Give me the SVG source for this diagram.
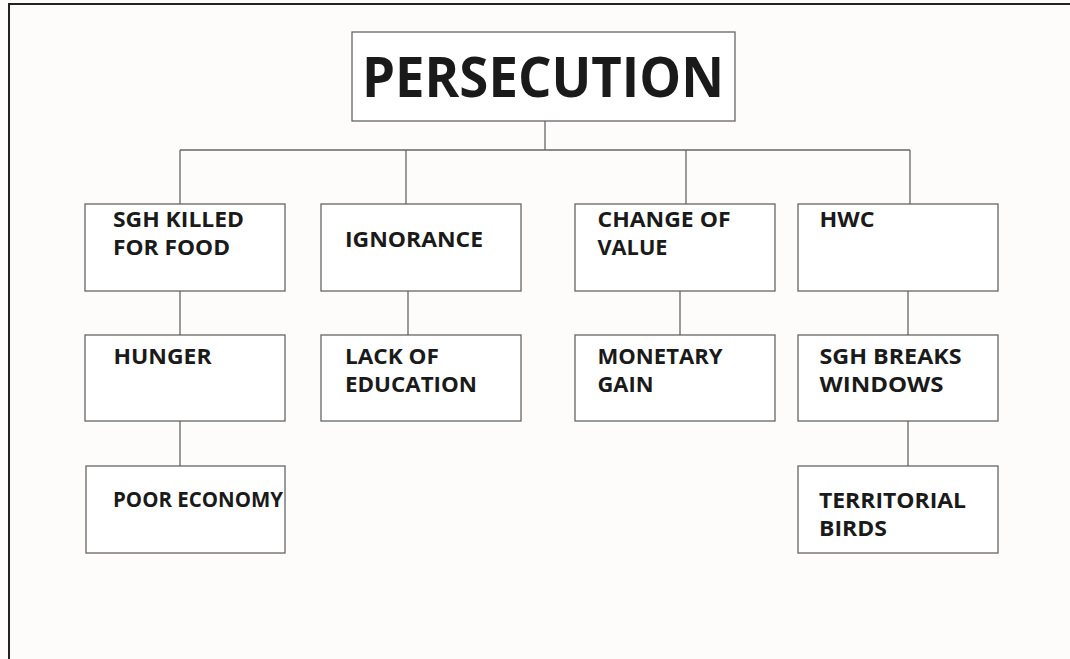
<svg xmlns="http://www.w3.org/2000/svg" width="1070" height="659" viewBox="0 0 1070 659">
<style>
.box{fill:#fff;stroke:#666;stroke-width:1.3}
.lbl{font-family:"Open Sans","Noto Sans","Liberation Sans",sans-serif;font-weight:700;font-size:22px;fill:#1a1a1a}
.title{font-family:"Open Sans","Noto Sans","Liberation Sans",sans-serif;font-weight:700;font-size:55px;fill:#1a1a1a}
.conn line{stroke:#666;stroke-width:1.3}
</style>
<rect x="0" y="0" width="1070" height="659" fill="#fdfcfb"/>
<g id="frame" stroke="#222" stroke-width="2" fill="none">
<line x1="9" y1="4" x2="1070" y2="4"/>
<line x1="9" y1="3" x2="9" y2="659"/>
</g>
<g class="conn" id="connectors">
<line x1="545" y1="121" x2="545" y2="150"/>
<line x1="180" y1="150" x2="910" y2="150"/>
<line x1="180" y1="150" x2="180" y2="204"/>
<line x1="406" y1="150" x2="406" y2="204"/>
<line x1="686" y1="150" x2="686" y2="204"/>
<line x1="910" y1="150" x2="910" y2="204"/>
<line x1="180" y1="291" x2="180" y2="335"/>
<line x1="180" y1="421" x2="180" y2="466"/>
<line x1="408" y1="291" x2="408" y2="335"/>
<line x1="680" y1="291" x2="680" y2="335"/>
<line x1="908" y1="291" x2="908" y2="335"/>
<line x1="908" y1="421" x2="908" y2="466"/>
</g>
<g id="persecution"><rect class="box" x="352" y="32" width="383" height="89"/><text class="title" x="362" y="97" textLength="362" lengthAdjust="spacingAndGlyphs">PERSECUTION</text></g>
<g id="sgh-killed"><rect class="box" x="85" y="204" width="200" height="87"/><text class="lbl" x="113" y="227" textLength="131" lengthAdjust="spacingAndGlyphs">SGH KILLED</text><text class="lbl" x="113" y="254.5" textLength="117" lengthAdjust="spacingAndGlyphs">FOR FOOD</text></g>
<g id="ignorance"><rect class="box" x="321" y="204" width="200" height="87"/><text class="lbl" x="345" y="247" textLength="138" lengthAdjust="spacingAndGlyphs">IGNORANCE</text></g>
<g id="change-of-value"><rect class="box" x="575" y="204" width="200" height="87"/><text class="lbl" x="597.5" y="227" textLength="133" lengthAdjust="spacingAndGlyphs">CHANGE OF</text><text class="lbl" x="597.5" y="255" textLength="70" lengthAdjust="spacingAndGlyphs">VALUE</text></g>
<g id="hwc"><rect class="box" x="798" y="204" width="200" height="87"/><text class="lbl" x="819.5" y="227" textLength="55" lengthAdjust="spacingAndGlyphs">HWC</text></g>
<g id="hunger"><rect class="box" x="85" y="335" width="200" height="86"/><text class="lbl" x="113.5" y="364" textLength="98" lengthAdjust="spacingAndGlyphs">HUNGER</text></g>
<g id="lack-of-education"><rect class="box" x="321" y="335" width="200" height="86"/><text class="lbl" x="345" y="364" textLength="94" lengthAdjust="spacingAndGlyphs">LACK OF</text><text class="lbl" x="345" y="392" textLength="132" lengthAdjust="spacingAndGlyphs">EDUCATION</text></g>
<g id="monetary-gain"><rect class="box" x="575" y="335" width="200" height="86"/><text class="lbl" x="597.5" y="364" textLength="125" lengthAdjust="spacingAndGlyphs">MONETARY</text><text class="lbl" x="597.5" y="392" textLength="56" lengthAdjust="spacingAndGlyphs">GAIN</text></g>
<g id="sgh-breaks-windows"><rect class="box" x="798" y="335" width="200" height="86"/><text class="lbl" x="819.5" y="364" textLength="142" lengthAdjust="spacingAndGlyphs">SGH BREAKS</text><text class="lbl" x="819.5" y="392" textLength="124" lengthAdjust="spacingAndGlyphs">WINDOWS</text></g>
<g id="poor-economy"><rect class="box" x="86" y="466" width="199" height="87"/><text class="lbl" x="113" y="507" textLength="170" lengthAdjust="spacingAndGlyphs">POOR ECONOMY</text></g>
<g id="territorial-birds"><rect class="box" x="798" y="466" width="200" height="87"/><text class="lbl" x="819" y="508" textLength="147" lengthAdjust="spacingAndGlyphs">TERRITORIAL</text><text class="lbl" x="819" y="536" textLength="68" lengthAdjust="spacingAndGlyphs">BIRDS</text></g>
</svg>
